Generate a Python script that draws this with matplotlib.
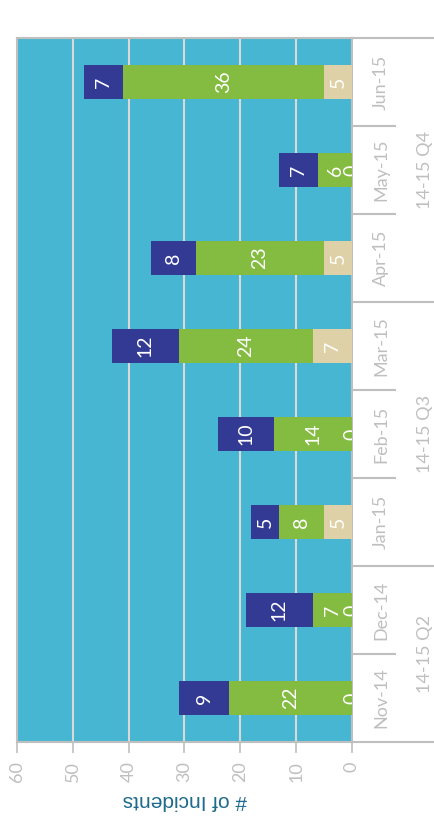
import matplotlib.pyplot as plt
import matplotlib.transforms as mtransforms
import numpy as np

# monthly incident counts, stacked bottom -> top: beige, green, navy
months = ["Nov-14", "Dec-14", "Jan-15", "Feb-15", "Mar-15", "Apr-15", "May-15", "Jun-15"]
quarters = ["14-15 Q2", "14-15 Q3", "14-15 Q4"]
quarter_sizes = [2, 3, 3]
seg_beige = [0, 0, 5, 0, 7, 5, 0, 5]
seg_green = [22, 7, 8, 14, 24, 23, 6, 36]
seg_navy = [9, 12, 5, 10, 12, 8, 7, 7]
value_ticks = [0, 10, 20, 30, 40, 50, 60]

C_BG = "#47b6d2"
C_BEIGE = "#dfd1a7"
C_GREEN = "#84bc41"
C_NAVY = "#333a94"
C_GRID = "#d9d9d9"
C_AXIS = "#bfbfbf"
C_TEXT = "#bfbfbf"

plt.rcParams["font.family"] = ["Lato", "DejaVu Sans"]

fig = plt.figure(figsize=(4.35, 8.33), dpi=100)
# chart is laid out turned a quarter turn: values run right -> left
ax = fig.add_axes([17 / 435, 1 - 742 / 833, (352 - 17) / 435, (742 - 38) / 833])
ax.set_facecolor(C_BG)

y = np.arange(len(months))
bar_h = 0.39
left = np.zeros(len(months))
for vals, col in [(seg_beige, C_BEIGE), (seg_green, C_GREEN), (seg_navy, C_NAVY)]:
    vals = np.array(vals, dtype=float)
    ax.barh(y, vals, left=left, height=bar_h, color=col, zorder=3)
    for yi, l, v in zip(y, left, vals):
        ax.text(l + v / 2, yi, f"{int(v)}", rotation=90, ha="center", va="center",
                color="white", fontsize=14, zorder=4, clip_on=True)
    left += vals

ax.set_xlim(60, 0)
ax.set_ylim(-0.5, len(months) - 0.5)

for t in value_ticks[1:]:
    ax.axvline(t, color=C_GRID, lw=1.5, zorder=1)

for s in ax.spines.values():
    s.set_color(C_AXIS)
    s.set_linewidth(1.5)

ax.set_xticks(value_ticks)
ax.set_xticklabels([str(v) for v in value_ticks], rotation=90, color=C_TEXT, fontsize=13)
ax.tick_params(axis="x", direction="out", length=8, width=1.2, color=C_AXIS, pad=6)
ax.set_yticks([])
ax.set_xlabel("# of Incidents", rotation=180, color="#1d6a8c", fontsize=15,
              family=["Liberation Sans", "DejaVu Sans"], labelpad=6)

# two-level category axis on the right side
tr = mtransforms.blended_transform_factory(ax.transAxes, ax.transData)
short_x = (395 - 17) / (352 - 17)
long_x = (435 - 17) / (352 - 17)
month_x = (381 - 17) / (352 - 17)
group_x = (425 - 17) / (352 - 17)

group_edges = np.cumsum([0] + quarter_sizes)
for b in range(len(months) + 1):
    pos = b - 0.5
    end = long_x if b in group_edges else short_x
    ax.plot([1, end], [pos, pos], transform=tr, color=C_AXIS, lw=1.5, clip_on=False)

for yi, m in zip(y, months):
    ax.text(month_x, yi, m, transform=tr, rotation=90, ha="center", va="center",
            color=C_TEXT, fontsize=13, clip_on=False)

for q, a, b in zip(quarters, group_edges[:-1], group_edges[1:]):
    ax.text(group_x, (a + b - 1) / 2, q, transform=tr, rotation=90, ha="center",
            va="center", color=C_TEXT, fontsize=13, clip_on=False)

fig.savefig("out.png", dpi=100)
